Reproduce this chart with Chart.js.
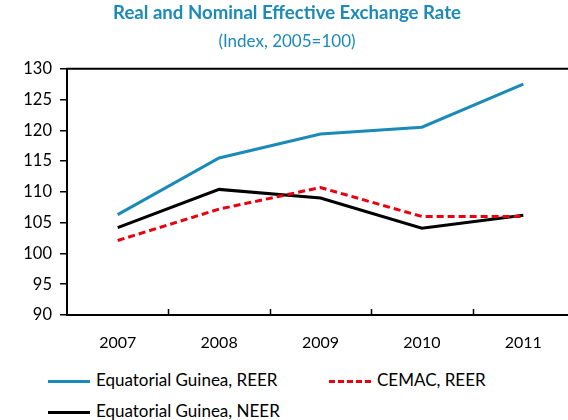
<!DOCTYPE html>
<html lang="en">
<head>
    <meta charset="UTF-8">
    <title>Real and Nominal Effective Exchange Rate</title>
    <script src="https://cdn.jsdelivr.net/npm/chart.js"></script>
    <style>
        body { margin: 0; background: #fff; overflow: hidden; font-family: Lato, "Open Sans", sans-serif; }
        .janela { position: relative; width: 568px; height: 420px; overflow: hidden; }
        #grafico { position: absolute; left: 0; top: 0; width: 578px; height: 352px; }
        .legenda { position: absolute; font-size: 17px; line-height: 20px; color: #000; white-space: nowrap; }
        .legenda span.linha { display: inline-block; width: 42px; height: 0; vertical-align: middle; margin-right: 6px; }
    </style>
</head>
<body>
<div class="janela">
    <div id="grafico"><canvas id="myChartCanvas" width="578" height="352"></canvas></div>
    <div id="legendas"></div>
</div>

<script>
    // dados
    var anos = ['2007', '2008', '2009', '2010', '2011'];
    var reerGuine = [106.3, 115.5, 119.4, 120.5, 127.5];
    var reerCemac = [102.1, 107.2, 110.7, 106.0, 106.0];
    var neerGuine = [104.2, 110.4, 109.0, 104.1, 106.2];

    var nomes = ['Equatorial Guinea, REER', 'CEMAC, REER', 'Equatorial Guinea, NEER'];

    var azul = '#1b8ab8';
    var vermelho = '#e8000e';

    // moldura de cima + tracinhos do eixo x para dentro
    const moldura = {
        id: 'moldura',
        afterDraw(chart) {
            const ctx = chart.ctx;
            const area = chart.chartArea;
            const x = chart.scales.x;
            ctx.save();
            ctx.strokeStyle = '#000';
            ctx.lineWidth = 2;
            ctx.beginPath();
            ctx.moveTo(area.left - 1, area.top);
            ctx.lineTo(area.right, area.top);
            ctx.stroke();
            var passo = x.getPixelForValue(1) - x.getPixelForValue(0);
            ctx.lineWidth = 1.5;
            for (var i = 1; i < anos.length; i++) {
                var px = Math.round(x.getPixelForValue(i) - passo / 2) + 0.5;
                ctx.beginPath();
                ctx.moveTo(px, area.bottom);
                ctx.lineTo(px, area.bottom - 6);
                ctx.stroke();
            }
            ctx.restore();
        }
    };

    const config = {
        type: 'line',
        data: {
            labels: anos,
            datasets: [{
                label: nomes[0],
                data: reerGuine,
                borderColor: azul,
                borderWidth: 3,
                pointRadius: 0,
                tension: 0
            }, {
                label: nomes[1],
                data: reerCemac,
                borderColor: vermelho,
                borderWidth: 3,
                borderDash: [7, 4],
                pointRadius: 0,
                tension: 0
            }, {
                label: nomes[2],
                data: neerGuine,
                borderColor: '#000',
                borderWidth: 3,
                pointRadius: 0,
                tension: 0
            }]
        },
        options: {
            responsive: false,
            animation: false,
            layout: { padding: { left: 0, right: 4, top: 0, bottom: 0 } },
            plugins: {
                legend: { display: false },
                tooltip: { enabled: false },
                title: {
                    display: true,
                    text: 'Real and Nominal Effective Exchange Rate',
                    color: azul,
                    font: { family: 'Lato', size: 18.6, weight: 'bold', lineHeight: 1.2 },
                    padding: { top: 2, bottom: 7 }
                },
                subtitle: {
                    display: true,
                    text: '(Index, 2005=100)',
                    color: azul,
                    font: { family: 'Lato', size: 17, lineHeight: 1.2 },
                    padding: { top: 0, bottom: 17 }
                }
            },
            scales: {
                x: {
                    offset: true,
                    grid: { display: false },
                    border: { display: true, color: '#000', width: 2 },
                    ticks: { color: '#000', padding: 10, font: { family: 'Lato', size: 16 } },
                    afterFit: function (scale) { scale.height = 37; }
                },
                y: {
                    min: 90,
                    max: 130,
                    grid: { drawOnChartArea: false, color: '#000', lineWidth: 1.5, tickLength: 7 },
                    border: { display: true, color: '#000', width: 2 },
                    ticks: { stepSize: 5, color: '#000', padding: 8, font: { family: 'Lato', size: 16.5 } },
                    afterFit: function (scale) { scale.width = 67; }
                }
            }
        },
        plugins: [moldura]
    };

    let myChart = new Chart(document.getElementById('myChartCanvas'), config);

    // legenda em html, duas colunas
    var posicoes = [[48, 370], [329, 370], [48, 401]];
    var estilos = ['3px solid ' + azul, '3px dashed ' + vermelho, '3px solid #000'];
    var legendas = document.getElementById('legendas');
    for (var i = 0; i < nomes.length; i++) {
        var d = document.createElement('div');
        d.className = 'legenda';
        d.style.left = posicoes[i][0] + 'px';
        d.style.top = posicoes[i][1] + 'px';
        d.innerHTML = '<span class="linha" style="border-top:' + estilos[i] + '"></span>' + nomes[i];
        legendas.appendChild(d);
    }
</script>
</body>
</html>
